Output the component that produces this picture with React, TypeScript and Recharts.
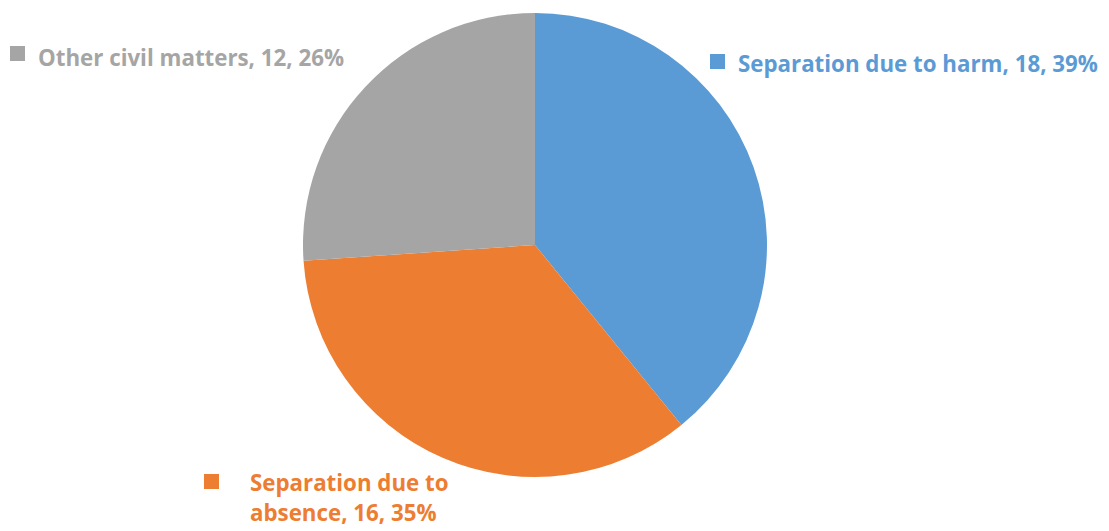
import { Cell, Pie, PieChart } from "recharts";

const categories = ["Separation due to harm", "Separation due to absence", "Other civil matters"];
const counts = [18, 16, 12];
const percents = ["39%", "35%", "26%"];
const colors = ["#5B9BD5", "#ED7D31", "#A5A5A5"];

// label placement (marker + text lines), not data
const labelLayout = [
  { sx: 710, sy: 54, tx: 738, lines: ["Separation due to harm, 18, 39%"], by: 72 },
  { sx: 204, sy: 474, tx: 250, lines: ["Separation due to", "absence, 16, 35%"], by: 491 },
  { sx: 10, sy: 46, tx: 38, lines: ["Other civil matters, 12, 26%"], by: 66 },
];

const data = categories.map((name, i) => ({ name, value: counts[i], pct: percents[i] }));

function renderLabel(props: any) {
  const i = props.index;
  const l = labelLayout[i];
  return (
    <g key={`lbl-${i}`}>
      <rect x={l.sx} y={l.sy} width={15} height={15} fill={colors[i]} />
      {l.lines.map((t, j) => (
        <text
          key={j}
          x={l.tx}
          y={l.by + j * 30}
          fill={colors[i]}
          fontFamily="'Open Sans', sans-serif"
          fontWeight={700}
          fontSize={22.3}
        >
          {t}
        </text>
      ))}
    </g>
  );
}

export default function App() {
  return (
    <div style={{ position: "absolute", left: 0, top: 0, width: 1109, height: 531, background: "#fff" }}>
      <PieChart width={1109} height={531} margin={{ top: 0, right: 0, bottom: 0, left: 0 }}>
        <Pie
          data={data}
          dataKey="value"
          nameKey="name"
          cx={535}
          cy={245}
          outerRadius={232}
          startAngle={90}
          endAngle={-270}
          stroke="none"
          label={renderLabel}
          labelLine={false}
          isAnimationActive={false}
        >
          {data.map((d, i) => (
            <Cell key={d.name} fill={colors[i]} />
          ))}
        </Pie>
      </PieChart>
    </div>
  );
}
